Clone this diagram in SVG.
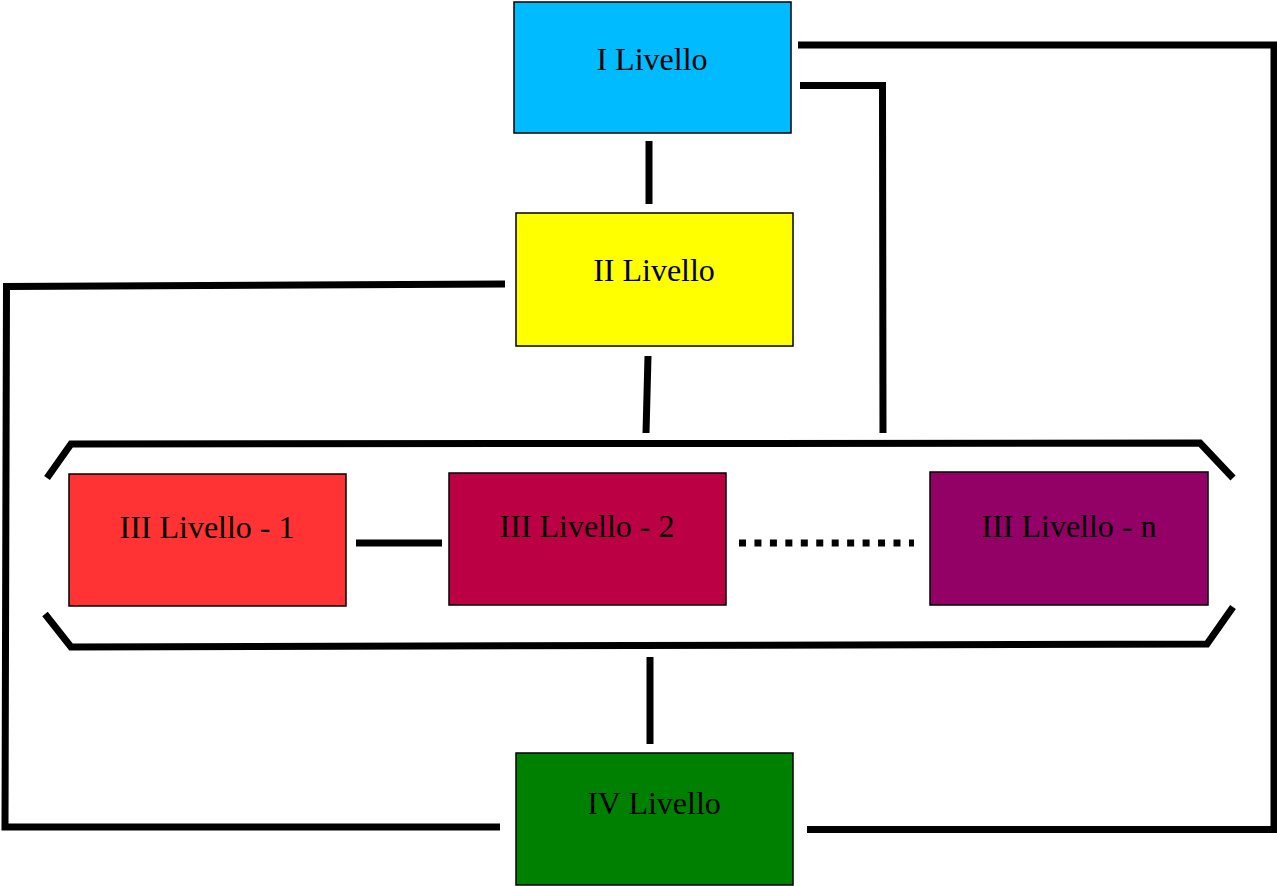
<svg xmlns="http://www.w3.org/2000/svg" width="1277" height="886" viewBox="0 0 1277 886">
<style>
.box{stroke:#000;stroke-width:1.5}
.lbl{font-family:"Liberation Serif","Times New Roman",serif;font-size:32px;fill:#000;text-anchor:middle}
.ln{fill:none;stroke:#000;stroke-width:7;stroke-linecap:butt;stroke-linejoin:miter}
</style>
<rect width="1277" height="886" fill="#fff"/>
<g id="connectors">
<line class="ln" x1="649" y1="141" x2="649" y2="204"/>
<polyline class="ln" points="798,45 1274,45 1274,829.5 807,829.5"/>
<polyline class="ln" points="800,85.5 882.5,85.5 883,433"/>
<polyline class="ln" points="505,284 6.5,286.5 5,827 500,827"/>
<line class="ln" x1="648" y1="356" x2="646" y2="433"/>
<polyline class="ln" points="47,478 71,444 1200,443 1233,478"/>
<polyline class="ln" points="45,614 71,647 1207,644 1233,607"/>
<line class="ln" x1="356" y1="543" x2="442" y2="543"/>
<line class="ln" x1="739" y1="543" x2="914" y2="543" stroke-dasharray="7 8.45"/>
<line class="ln" x1="650" y1="657" x2="650" y2="744"/>
</g>
<g id="node-1">
<rect class="box" x="514" y="2" width="277" height="131" fill="#00BBFF"/>
<text class="lbl" x="652" y="70">I Livello</text>
</g>
<g id="node-2">
<rect class="box" x="516" y="213" width="277" height="133" fill="#FFFF00"/>
<text class="lbl" x="654" y="281">II Livello</text>
</g>
<g id="node-3-1">
<rect class="box" x="69" y="474" width="277" height="132" fill="#FF3333"/>
<text class="lbl" x="207" y="538">III Livello - 1</text>
</g>
<g id="node-3-2">
<rect class="box" x="449" y="473" width="277" height="132" fill="#BB0044"/>
<text class="lbl" x="587" y="537">III Livello - 2</text>
</g>
<g id="node-3-n">
<rect class="box" x="930" y="472" width="278" height="133" fill="#930066"/>
<text class="lbl" x="1069" y="537">III Livello - n</text>
</g>
<g id="node-4">
<rect class="box" x="516" y="753" width="277" height="132" fill="#008000"/>
<text class="lbl" x="654" y="814">IV Livello</text>
</g>
</svg>
